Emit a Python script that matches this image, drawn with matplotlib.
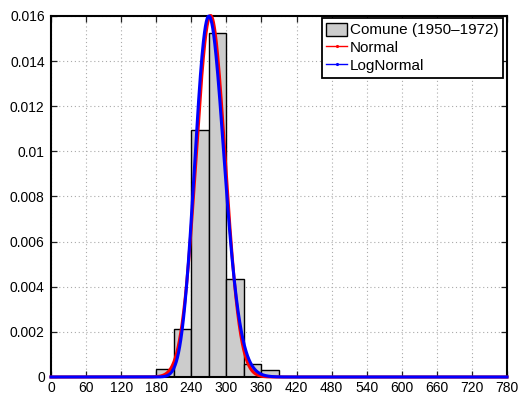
import numpy as np
import matplotlib
matplotlib.use("Agg")
import matplotlib.pyplot as plt
from matplotlib.lines import Line2D
from matplotlib.patches import Patch

plt.rcParams['font.family'] = ['Liberation Sans', 'DejaVu Sans']

# Histogram data (density)
bin_edges = [180, 210, 240, 270, 300, 330, 360, 390]
densities = [0.00034, 0.00213, 0.01095, 0.01523, 0.00433, 0.00058, 0.00030]

# Fitted distribution parameters
norm_mu, norm_sigma = 273.0, 24.9
logn_mean, logn_sd = 273.5, 25.2

xticks = list(range(0, 781, 60))
yticks = [0, 0.002, 0.004, 0.006, 0.008, 0.01, 0.012, 0.014, 0.016]
ytick_labels = ['0', '0.002', '0.004', '0.006', '0.008', '0.01', '0.012', '0.014', '0.016']

fig = plt.figure(figsize=(5.21, 3.96), dpi=100)
ax = fig.add_axes([51/521, 19/396, 456/521, 361/396])

lefts = bin_edges[:-1]
widths = np.diff(bin_edges)
ax.bar(lefts, densities, width=widths, align='edge', color='#cccccc',
       edgecolor='black', linewidth=1.0, zorder=2)

x = np.linspace(0, 780, 2000)
norm_pdf = np.exp(-0.5 * ((x - norm_mu) / norm_sigma) ** 2) / (norm_sigma * np.sqrt(2 * np.pi))
s2 = np.log(1 + (logn_sd / logn_mean) ** 2)
s = np.sqrt(s2)
m = np.log(logn_mean) - s2 / 2
xl = np.where(x > 0, x, 1e-9)
logn_pdf = np.where(x > 0, np.exp(-(np.log(xl) - m) ** 2 / (2 * s2)) / (xl * s * np.sqrt(2 * np.pi)), 0)

ax.plot(x, norm_pdf, color='red', linewidth=2.2, zorder=3, clip_on=False)
ax.plot(x, logn_pdf, color='blue', linewidth=2.2, zorder=4, clip_on=False)

ax.set_xlim(0, 780)
ax.set_ylim(0, 0.016)
ax.set_xticks(xticks)
ax.set_yticks(yticks)
ax.set_yticklabels(ytick_labels)
ax.tick_params(direction='in', length=4, width=0.9, labelsize=10, color='#222222',
               top=True, right=True)
ax.tick_params(axis='y', pad=4.5)
ax.tick_params(axis='x', pad=3)
ax.grid(True, linestyle=(0, (1, 2.5)), color='#aaaaaa', linewidth=0.8, zorder=0)
ax.set_axisbelow(True)
for sp in ax.spines.values():
    sp.set_linewidth(1.5)

handles = [Patch(facecolor='#cccccc', edgecolor='black', linewidth=1.0),
           Line2D([], [], color='red', linewidth=1.0, marker='.', markersize=2.5),
           Line2D([], [], color='blue', linewidth=1.0, marker='.', markersize=2.5)]
labels = ['Comune (1950\u20131972)', 'Normal', 'LogNormal']
leg = ax.legend(handles, labels, loc='upper right',
                bbox_to_anchor=((503 - 51) / 456, (378 - 19) / 361),
                fontsize=11, frameon=True, fancybox=False, edgecolor='black',
                framealpha=1, borderpad=0.3, labelspacing=0.2, handlelength=1.4,
                handleheight=0.95, handletextpad=0.15, borderaxespad=0.0)
leg.get_frame().set_linewidth(1.3)
leg.set_zorder(10)

fig.savefig('out.png', dpi=100)
